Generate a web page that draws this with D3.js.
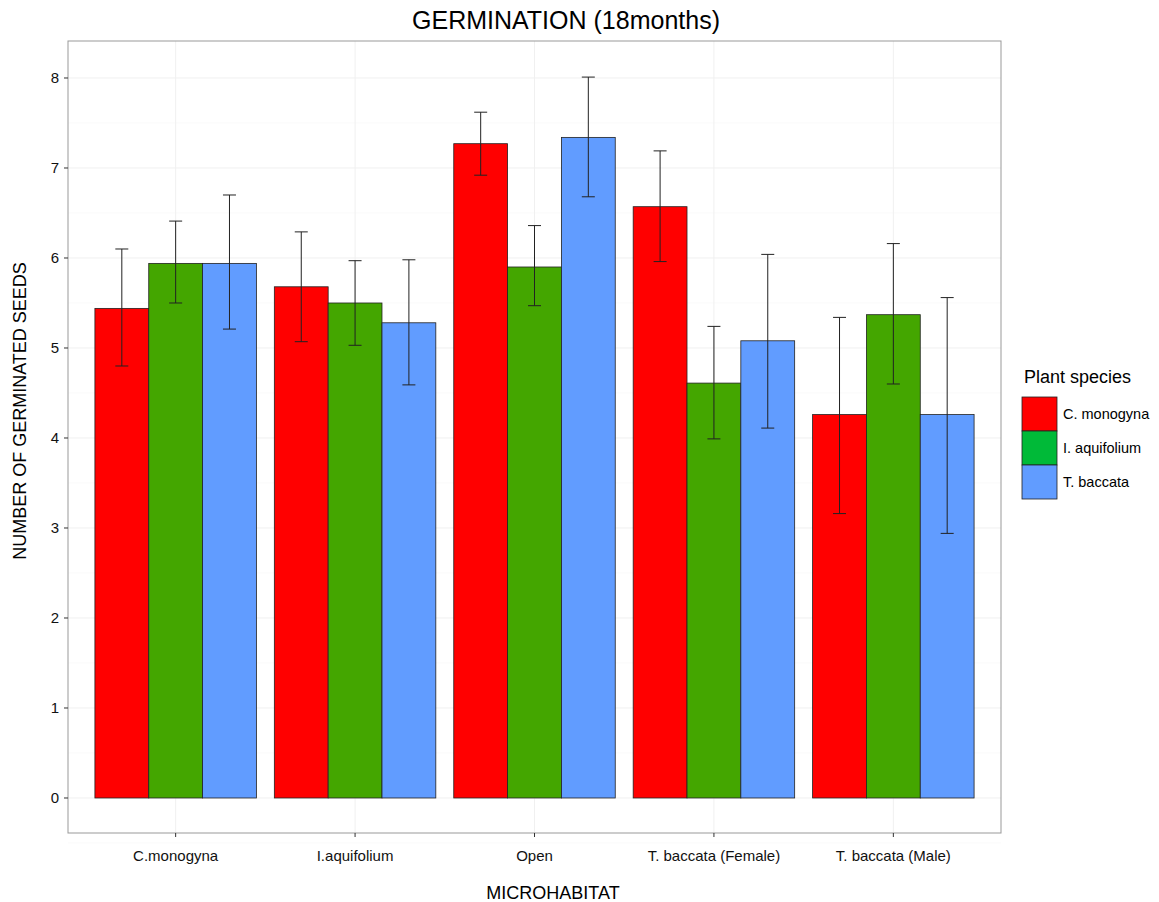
<!DOCTYPE html>
<html><head><meta charset="utf-8">
<script src="https://cdn.jsdelivr.net/npm/d3@7"></script>
<style>body{margin:0;background:#fff;} text{font-family:"Liberation Sans",Arial,Helvetica,sans-serif;}</style>
</head><body>
<svg id="c" width="1159" height="902"></svg>
<script>
const categories = ["C.monogyna","I.aquifolium","Open","T. baccata (Female)","T. baccata (Male)"];
const species = ["C. monogyna","I. aquifolium","T. baccata"];
const meanCmonogyna = [5.44,5.68,7.27,6.57,4.26];
const meanIaquifolium = [5.94,5.50,5.90,4.61,5.37];
const meanTbaccata = [5.94,5.28,7.34,5.08,4.26];
const upperCmonogyna = [6.10,6.29,7.62,7.19,5.34];
const lowerCmonogyna = [4.80,5.07,6.92,5.96,3.16];
const upperIaquifolium = [6.41,5.97,6.36,5.24,6.16];
const lowerIaquifolium = [5.50,5.03,5.47,3.99,4.60];
const upperTbaccata = [6.70,5.98,8.01,6.04,5.56];
const lowerTbaccata = [5.21,4.59,6.68,4.11,2.94];
const yTicks = [0,1,2,3,4,5,6,7,8];
const barColors = ["#FF0000","#44A600","#619CFF"];
const legendColors = ["#FF0000","#00BA38","#619CFF"];

const means=[meanCmonogyna,meanIaquifolium,meanTbaccata];
const uppers=[upperCmonogyna,upperIaquifolium,upperTbaccata];
const lowers=[lowerCmonogyna,lowerIaquifolium,lowerTbaccata];
const data=[];
categories.forEach((c,i)=>species.forEach((s,j)=>data.push({cat:c,sp:s,j,v:means[j][i],hi:uppers[j][i],lo:lowers[j][i]})));

const svg=d3.select("#c");
const L=68,R=1001,T=41,B=833;
const y=d3.scaleLinear().domain([-0.389,8.411]).range([B,T]);
const step=(R-L)/5.2;
const xp=d3.scalePoint().domain(categories).range([L+0.6*step,R-0.6*step]);
const cx=c=>xp(c);
const xs=d3.scaleBand().domain(species).range([-0.45*step,0.45*step]);

// grid
const g=svg.append("g");
const minor=d3.range(-0.5,8.5,1);
g.selectAll(".mn").data(minor).join("line").attr("x1",L).attr("x2",R).attr("y1",d=>y(d)).attr("y2",d=>y(d)).attr("stroke","#FAFAFA").attr("stroke-width",1);
g.selectAll(".mj").data(yTicks).join("line").attr("x1",L).attr("x2",R).attr("y1",d=>y(d)).attr("y2",d=>y(d)).attr("stroke","#F0F0F0").attr("stroke-width",1);
g.selectAll(".vx").data(categories).join("line").attr("x1",d=>cx(d)).attr("x2",d=>cx(d)).attr("y1",T).attr("y2",B).attr("stroke","#F0F0F0").attr("stroke-width",1);

// bars
svg.append("g").selectAll("rect").data(data).join("rect")
 .attr("x",d=>cx(d.cat)+xs(d.sp)).attr("width",xs.bandwidth())
 .attr("y",d=>y(d.v)).attr("height",d=>y(0)-y(d.v))
 .attr("fill",d=>barColors[d.j]).attr("stroke","#222").attr("stroke-width",0.8);

// error bars
const eb=svg.append("g").attr("stroke","#222").attr("stroke-width",1);
const cap=6.5;
data.forEach(d=>{
  const xc=cx(d.cat)+xs(d.sp)+xs.bandwidth()/2;
  eb.append("line").attr("x1",xc).attr("x2",xc).attr("y1",y(d.hi)).attr("y2",y(d.lo));
  eb.append("line").attr("x1",xc-cap).attr("x2",xc+cap).attr("y1",y(d.hi)).attr("y2",y(d.hi));
  eb.append("line").attr("x1",xc-cap).attr("x2",xc+cap).attr("y1",y(d.lo)).attr("y2",y(d.lo));
});

// panel border
svg.append("rect").attr("x",L).attr("y",T).attr("width",R-L).attr("height",B-T).attr("fill","none").attr("stroke","#999").attr("stroke-width",1);

// y axis
const ya=svg.append("g");
yTicks.forEach(t=>{
  ya.append("line").attr("x1",L-4).attr("x2",L).attr("y1",y(t)).attr("y2",y(t)).attr("stroke","#333");
  ya.append("text").attr("x",L-9).attr("y",y(t)).attr("dy","0.35em").attr("text-anchor","end").attr("font-size",15).attr("fill","#111").text(t);
});
// x axis
categories.forEach(c=>{
  svg.append("line").attr("x1",cx(c)).attr("x2",cx(c)).attr("y1",B).attr("y2",B+4).attr("stroke","#333");
  svg.append("text").attr("x",cx(c)).attr("y",861).attr("text-anchor","middle").attr("font-size",15).attr("fill","#111").text(c);
});

svg.append("text").attr("x",566).attr("y",29).attr("text-anchor","middle").attr("font-size",25).attr("fill","#000").text("GERMINATION (18months)");
svg.append("text").attr("x",553).attr("y",899).attr("text-anchor","middle").attr("font-size",18).attr("fill","#000").text("MICROHABITAT");
svg.append("text").attr("transform","translate(26,411) rotate(-90)").attr("text-anchor","middle").attr("font-size",18).attr("fill","#000").text("NUMBER OF GERMINATED SEEDS");

// legend
const lg=svg.append("g");
lg.append("text").attr("x",1024).attr("y",383).attr("font-size",18).attr("fill","#000").text("Plant species");
species.forEach((s,i)=>{
  lg.append("rect").attr("x",1022).attr("y",397+i*34).attr("width",35).attr("height",34).attr("fill",legendColors[i]).attr("stroke","#222").attr("stroke-width",0.8);
  lg.append("text").attr("x",1063).attr("y",414+i*34).attr("dy","0.35em").attr("font-size",14.5).attr("fill","#000").text(s);
});
</script>
</body></html>
